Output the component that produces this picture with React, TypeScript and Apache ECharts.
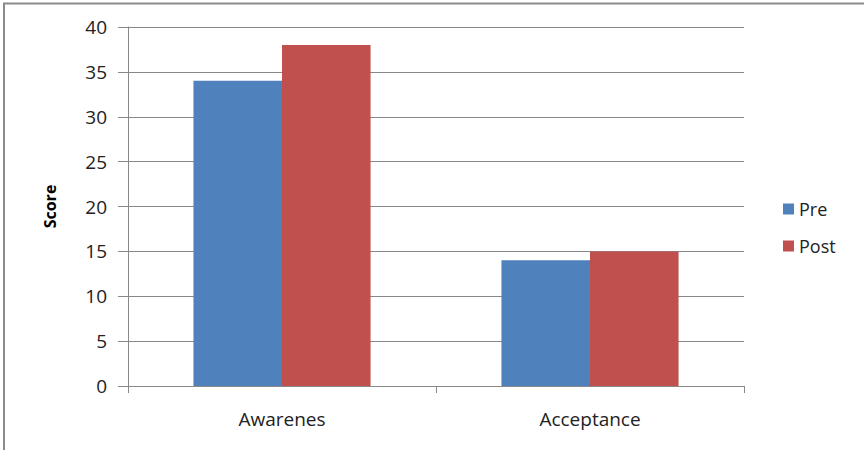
import React, { useEffect, useRef } from "react";
import * as echarts from "echarts";

const categories = ["Awarenes", "Acceptance"];
const preValues = [34, 14];
const postValues = [38, 15];
const seriesNames = ["Pre", "Post"];
const yAxisName = "Score";

export default function App() {
  const ref = useRef<HTMLDivElement>(null);
  useEffect(() => {
    if (!ref.current) return;
    const chart = echarts.init(ref.current, null, { renderer: "svg" });
    const font = "'Open Sans', 'Noto Sans', sans-serif";
    chart.setOption({
      animation: false,
      backgroundColor: "#ffffff",
      textStyle: { fontFamily: font },
      graphic: [
        {
          type: "rect",
          shape: { x: 4, y: 3.5, width: 900, height: 500 },
          style: { fill: "none", stroke: "#8a8a8a", lineWidth: 2 },
          silent: true,
        },
      ],
      grid: { left: 128, right: 120, top: 27, bottom: 64 },
      legend: {
        orient: "vertical",
        left: 778,
        top: 195,
        itemWidth: 11,
        itemHeight: 11,
        itemGap: 19,
        icon: "rect",
        data: seriesNames,
        textStyle: { fontSize: 18, color: "#222", fontFamily: font },
      },
      xAxis: {
        type: "category",
        data: categories,
        axisLine: { lineStyle: { color: "#888", width: 1 } },
        axisTick: { show: true, length: 7, alignWithLabel: false, lineStyle: { color: "#888" } },
        axisLabel: { fontSize: 19, color: "#222", margin: 23, fontFamily: font },
        splitLine: { show: false },
      },
      yAxis: {
        type: "value",
        min: 0,
        max: 40,
        interval: 5,
        name: yAxisName,
        nameLocation: "middle",
        nameGap: 70,
        nameRotate: 90,
        nameTextStyle: { fontSize: 16, fontWeight: "bold", color: "#000", fontFamily: font },
        axisLine: { show: true, lineStyle: { color: "#888", width: 1 } },
        axisTick: { show: true, length: 10, lineStyle: { color: "#888" } },
        axisLabel: { fontSize: 19, color: "#222", margin: 21, fontFamily: font },
        splitLine: { show: true, lineStyle: { color: "#888", width: 1 } },
      },
      series: [
        {
          name: seriesNames[0],
          type: "bar",
          data: preValues,
          barGap: "0%",
          barCategoryGap: "42.5%",
          itemStyle: { color: "#4F81BD" },
        },
        {
          name: seriesNames[1],
          type: "bar",
          data: postValues,
          barGap: "0%",
          barCategoryGap: "42.5%",
          itemStyle: { color: "#C0504D" },
        },
      ],
    });
    return () => chart.dispose();
  }, []);
  return (
    <div
      ref={ref}
      style={{ position: "fixed", left: 0, top: 0, width: 864, height: 450 }}
    />
  );
}
